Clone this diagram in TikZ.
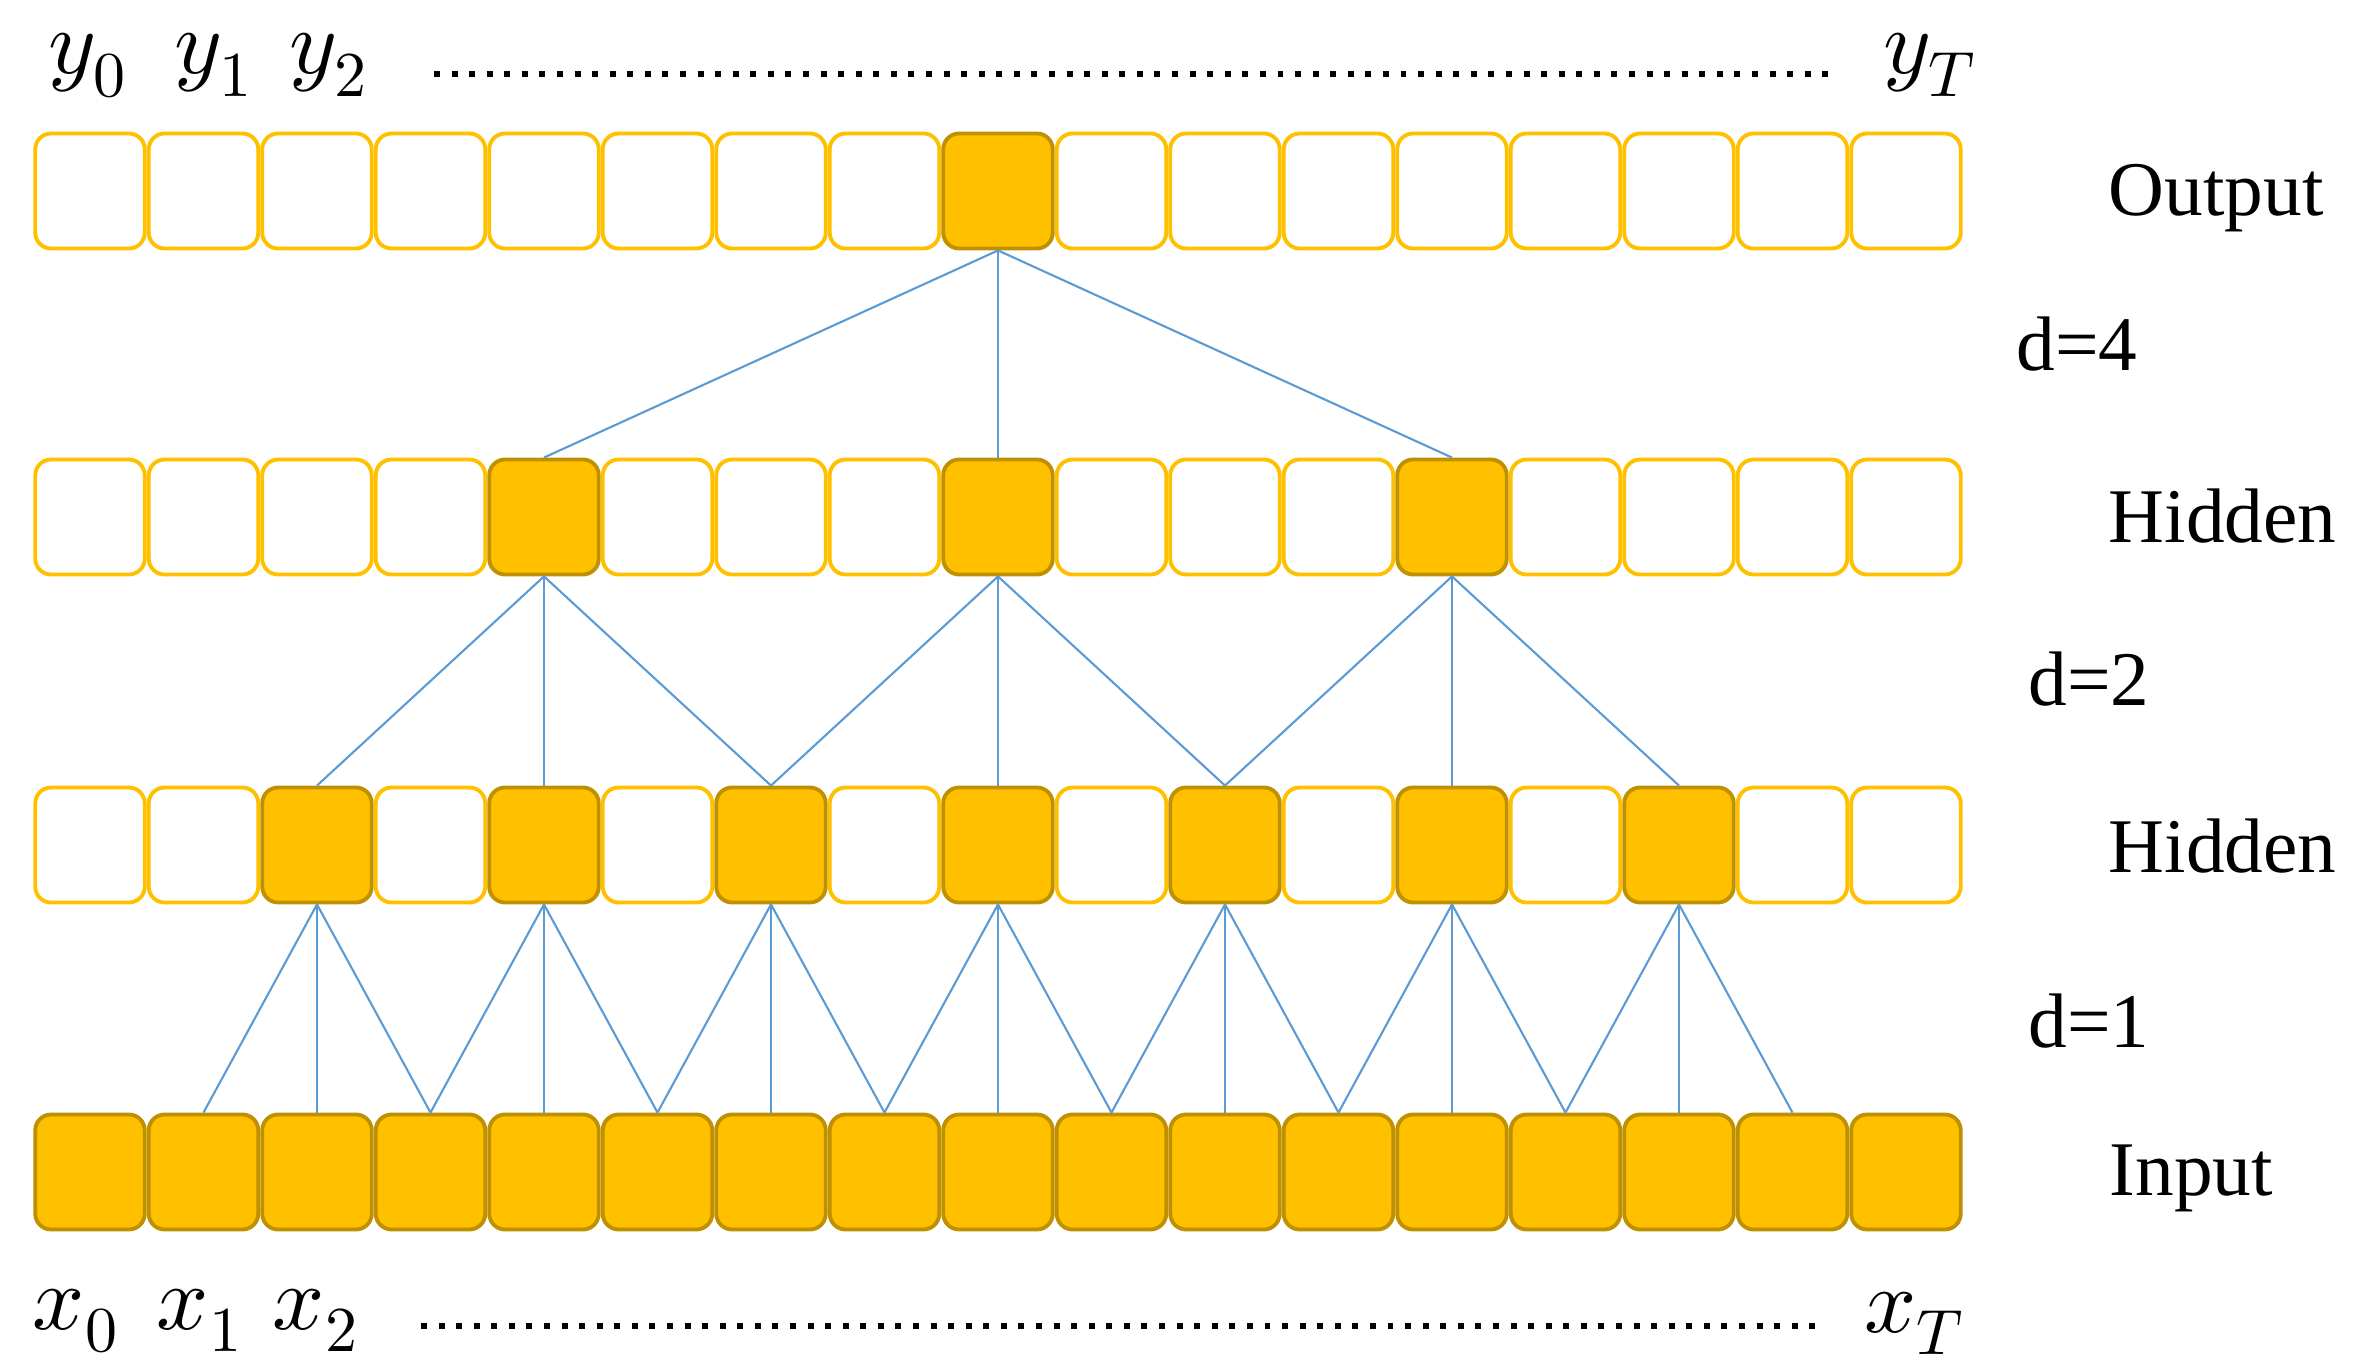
\documentclass[tikz,border=0pt]{standalone}
\usepackage{fontspec}
\setmainfont{Liberation Serif}
\usepackage{unicode-math}
\usetikzlibrary{positioning}
\definecolor{cellfill}{HTML}{FFC000}
\definecolor{celledge}{HTML}{BF9000}
\definecolor{linkblue}{HTML}{5B9BD5}
\tikzset{
  cell0/.style={draw=cellfill, fill=white, line width=1.1pt, rounded corners=4.5pt,
    minimum width=1.095cm, minimum height=1.15cm, inner sep=0pt},
  cell1/.style={cell0, draw=celledge, fill=cellfill},
  link/.style={draw=linkblue, line width=0.6pt},
  dotline/.style={line width=1.7pt, dash pattern=on 1.7pt off 3.3pt},
  lbl/.style={font=\rmfamily\fontsize{22}{26}\selectfont, anchor=base west, inner sep=0pt},
  sym/.style={font=\fontsize{26}{30}\selectfont, anchor=base, inner sep=0pt}
}
\begin{document}
\begin{tikzpicture}
    \useasboundingbox (0,0) rectangle (23.57,13.70);
    % layers
    \foreach \c in {0,...,16}{
        \pgfmathtruncatemacro\on{(\c==8)}
        \node[cell\on] (o\c) at ({0.90+1.135*\c},11.79) {};
        \pgfmathtruncatemacro\on{(mod(\c,4)==0)&&(\c>0)&&(\c<16)}
        \node[cell\on] (b\c) at ({0.90+1.135*\c},8.53) {};
        \pgfmathtruncatemacro\on{(mod(\c,2)==0)&&(\c>0)&&(\c<16)}
        \node[cell\on] (a\c) at ({0.90+1.135*\c},5.25) {};
        \node[cell1] (i\c) at ({0.90+1.135*\c},1.98) {};
    }
    % links
    \foreach \c in {4,8,12}
        \draw[link] (o8.south) -- (b\c.north);
    \foreach \p in {4,8,12}
        \foreach \k in {-2,0,2}{
            \pgfmathtruncatemacro\q{\p+\k}
            \draw[link] (b\p.south) -- (a\q.north);
        }
    \foreach \p in {2,4,...,14}
        \foreach \k in {-1,0,1}{
            \pgfmathtruncatemacro\q{\p+\k}
            \draw[link] (a\p.south) -- (i\q.north);
        }
    % sequence labels
    \node[sym] (y0) at (0.88,12.96) {$y_0$};
    \node[sym] (y1) at (2.14,12.96) {$y_1$};
    \node[sym] (y2) at (3.29,12.96) {$y_2$};
    \node[sym] (yT) at (19.30,12.96) {$y_T$};
    \coordinate (ydl) at (4.34,12.96);
    \coordinate (ydr) at (18.35,12.96);
    \draw[dotline] (ydl) -- (ydr);
    \node[sym] (x0) at (0.76,0.41) {$x_0$};
    \node[sym] (x1) at (2.00,0.41) {$x_1$};
    \node[sym] (x2) at (3.16,0.41) {$x_2$};
    \node[sym] (xT) at (19.15,0.38) {$x_T$};
    \coordinate (xdl) at (4.21,0.44);
    \coordinate (xdr) at (18.20,0.44);
    \draw[dotline] (xdl) -- (xdr);
    % layer names
    \node[lbl] (lout) at (21.08,11.54) {Output};
    \node[lbl] (ld4) at (20.16,9.99) {d=4};
    \node[lbl] (lhid2) at (21.08,8.27) {Hidden};
    \node[lbl] (ld2) at (20.28,6.65) {d=2};
    \node[lbl] (lhid1) at (21.08,4.98) {Hidden};
    \node[lbl] (ld1) at (20.28,3.23) {d=1};
    \node[lbl] (lin) at (21.09,1.75) {Input};
\end{tikzpicture}
\end{document}
